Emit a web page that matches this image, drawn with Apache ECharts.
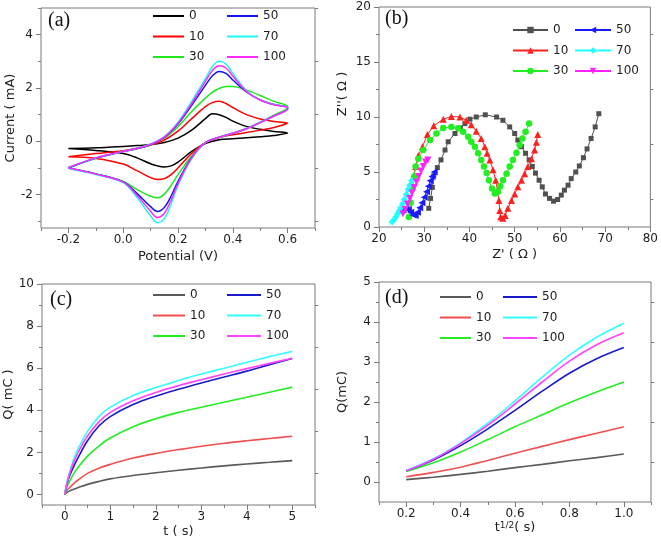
<!DOCTYPE html>
<html><head><meta charset="utf-8">
<script src="https://cdn.jsdelivr.net/npm/echarts@6/dist/echarts.min.js"></script>
<style>html,body{margin:0;padding:0;background:#fff}#c{width:661px;height:543px}</style>
</head><body><div id="c"></div>
<script>
// ---------- data ----------
const seriesNames = ['0', '10', '30', '50', '70', '100'];

// (a) cyclic voltammetry: forward scan then reverse scan
const cvPotential = [-0.2,-0.1,0,0.05,0.1,0.15,0.2,0.25,0.3,0.325,0.35,0.375,0.4,0.45,0.5,0.55,0.6,
                     0.6,0.55,0.5,0.45,0.4,0.35,0.3,0.25,0.2,0.175,0.15,0.125,0.1,0.05,0,-0.1,-0.2];
const cvCurrent0   = [-0.27,-0.24,-0.19,-0.16,-0.12,-0.04,0.12,0.42,0.85,1.03,1.0,0.9,0.76,0.56,0.45,0.37,0.31,
                      0.31,0.22,0.17,0.13,0.1,0.06,-0.08,-0.38,-0.78,-0.92,-0.96,-0.92,-0.84,-0.62,-0.46,-0.34,-0.27];
const cvCurrent10  = [-0.58,-0.46,-0.35,-0.26,-0.14,0.05,0.38,0.85,1.3,1.45,1.5,1.42,1.27,1.0,0.84,0.74,0.68,
                      0.66,0.52,0.42,0.33,0.25,0.14,-0.05,-0.45,-1.0,-1.25,-1.4,-1.43,-1.36,-1.1,-0.85,-0.64,-0.58];
const cvCurrent30  = [-1.0,-0.64,-0.38,-0.28,-0.13,0.12,0.55,1.12,1.62,1.84,1.98,2.06,2.06,1.92,1.72,1.5,1.32,
                      1.28,0.98,0.72,0.48,0.3,0.15,-0.05,-0.55,-1.25,-1.65,-1.98,-2.12,-2.06,-1.8,-1.5,-1.22,-1.0];
const cvCurrent50  = [-1.0,-0.63,-0.38,-0.27,-0.12,0.15,0.65,1.35,2.1,2.45,2.62,2.55,2.3,1.85,1.55,1.38,1.27,
                      1.22,0.95,0.7,0.47,0.3,0.15,-0.05,-0.6,-1.5,-2.05,-2.48,-2.63,-2.45,-1.95,-1.52,-1.22,-1.0];
const cvCurrent70  = [-0.98,-0.62,-0.38,-0.26,-0.1,0.18,0.72,1.5,2.35,2.8,3.0,2.9,2.55,1.9,1.56,1.38,1.28,
                      1.22,0.95,0.7,0.47,0.3,0.15,-0.05,-0.65,-1.65,-2.35,-2.9,-3.05,-2.8,-2.1,-1.55,-1.24,-1.02];
const cvCurrent100 = [-0.98,-0.62,-0.38,-0.27,-0.11,0.16,0.68,1.42,2.25,2.65,2.83,2.75,2.45,1.87,1.55,1.37,1.26,
                      1.22,0.95,0.7,0.47,0.3,0.15,-0.05,-0.62,-1.58,-2.2,-2.7,-2.86,-2.62,-2.02,-1.53,-1.23,-1.0];

// (b) impedance (Nyquist)
const eis0Re   = [31.0,31.4,31.8,32.1,32.9,33.7,34.6,35.3,36.8,38.0,39.0,40.1,41.5,43.5,46.0,47.4,48.9,50.0,50.7,51.5,52.4,53.2,53.9,54.6,55.4,56.1,56.8,57.7,58.6,59.5,60.3,61.0,61.8,62.5,63.5,64.3,65.2,66.0,66.9,67.8,68.6];
const eis0Im   = [1.7,2.6,3.6,4.65,5.4,6.1,7.0,7.75,8.5,9.0,9.4,9.8,10.0,10.2,10.0,9.7,9.1,8.5,7.9,7.3,6.7,6.1,5.5,4.9,4.25,3.65,3.0,2.6,2.35,2.5,2.9,3.35,3.8,4.4,5.0,5.55,6.3,7.1,8.05,9.1,10.3];
const eis10Re  = [27.6,28.1,28.7,29.6,30.7,32.1,34.2,36.0,37.9,39.3,40.4,41.5,42.6,43.4,43.9,44.5,45.2,45.8,46.2,46.5,46.7,46.9,47.4,47.9,48.5,49.3,50.0,50.7,51.5,52.2,52.9,53.7,54.4,54.8,55.1];
const eis10Im  = [4.6,5.5,6.5,7.3,8.4,9.2,9.8,10.05,10.0,9.7,9.3,8.7,8.05,7.3,6.7,6.1,5.2,4.25,3.35,2.4,1.5,0.9,0.8,1.05,1.7,2.4,3.0,3.65,4.25,4.85,5.5,6.2,7.0,7.7,8.4];
const eis30Re  = [26.6,27.0,27.4,27.8,28.1,28.7,29.8,31.3,32.7,34.2,36.0,37.5,38.6,39.7,40.4,41.2,41.9,42.6,43.2,43.8,44.3,45.0,45.6,46.3,46.8,47.4,48.2,48.9,49.6,50.4,51.1,51.7,52.4,53.2];
const eis30Im  = [0.9,2.2,3.5,4.6,5.5,6.2,7.0,7.9,8.5,9.0,9.1,8.97,8.66,8.2,7.75,7.3,6.7,6.1,5.5,4.9,4.25,3.5,3.05,3.2,3.7,4.25,4.85,5.5,6.1,6.75,7.45,8.05,8.66,9.4];
const eis50Re  = [24.8,25.3,25.9,26.5,27.0,27.5,28.0,28.5,29.0,29.5,30.0,30.5,30.9,31.3,31.7,32.2];
const eis50Im  = [1.4,1.55,1.65,1.6,1.35,1.1,1.05,1.35,1.75,2.2,2.7,3.2,3.7,4.2,4.6,5.0];
const eis70Re  = [22.9,23.3,23.7,24.1,24.5,24.8,25.2,25.6,26.0,26.4,26.8,27.2];
const eis70Im  = [0.45,0.65,0.9,1.2,1.5,1.75,2.1,2.5,2.95,3.4,3.8,4.2];
const eis100Re = [25.3,25.8,26.3,26.8,27.3,27.8,28.3,28.8,29.3,29.8,30.3,30.8];
const eis100Im = [1.2,1.6,2.1,2.6,3.1,3.6,4.1,4.6,5.1,5.5,5.9,6.1];

// (c) chronocoulometry Q vs t
const chronoTime = [0,0.05,0.1,0.2,0.3,0.5,0.75,1,1.5,2,2.5,3,3.5,4,4.5,5];
const chronoQ0   = [0,0.1,0.16,0.25,0.33,0.48,0.62,0.74,0.9,1.03,1.15,1.26,1.36,1.45,1.53,1.61];
const chronoQ10  = [0,0.2,0.32,0.53,0.7,1.0,1.25,1.43,1.73,1.95,2.13,2.29,2.43,2.55,2.66,2.77];
const chronoQ30  = [0,0.38,0.6,1.0,1.3,1.82,2.3,2.68,3.22,3.6,3.9,4.14,4.38,4.62,4.86,5.1];
const chronoQ50  = [0,0.5,0.85,1.35,1.78,2.55,3.25,3.7,4.27,4.67,5.0,5.3,5.58,5.86,6.17,6.46];
const chronoQ70  = [0,0.6,1.0,1.7,2.2,3.0,3.7,4.15,4.7,5.08,5.42,5.72,6.0,6.28,6.55,6.8];
const chronoQ100 = [0,0.55,0.95,1.55,2.03,2.78,3.45,3.9,4.45,4.85,5.17,5.45,5.72,5.98,6.23,6.47];

// (d) Q vs t^1/2
const sqrtTime = [0.2,0.3,0.4,0.5,0.6,0.7,0.8,0.9,1.0];
const ansonQ0   = [0.06,0.12,0.19,0.27,0.36,0.44,0.53,0.61,0.70];
const ansonQ10  = [0.13,0.24,0.37,0.54,0.72,0.89,1.06,1.22,1.38];
const ansonQ30  = [0.26,0.48,0.75,1.06,1.38,1.68,1.98,2.25,2.50];
const ansonQ50  = [0.28,0.55,0.91,1.33,1.79,2.27,2.72,3.08,3.36];
const ansonQ70  = [0.29,0.58,0.98,1.47,2.03,2.62,3.17,3.62,3.97];
const ansonQ100 = [0.28,0.57,0.96,1.42,1.95,2.50,3.02,3.43,3.73];

// ---------- chart ----------
const FONT = '"DejaVu Sans", sans-serif';
const FRAME = '#7a7a7a';
const TXT = '#1e1e1e';
const colA = ['#000000', '#ff0000', '#1ee81e', '#1414f0', '#1ef5f5', '#ff28ff'];
const colB = ['#505050', '#ff2020', '#22ee22', '#1a1aff', '#22ffff', '#ff22ff'];
const colC = ['#5a5a5a', '#f05050', '#22ee22', '#1a1acc', '#33ffff', '#ff44ff'];

const xAxes = [], yAxes = [];
const nameStyle = {color: TXT, fontFamily: FONT, fontSize: 13};
function mkX(gi, o) {
  const idx = xAxes.length;
  xAxes.push({type: 'value', gridIndex: gi, min: o.min, max: o.max, position: 'bottom',
    axisLine: {show: false, onZero: false}, splitLine: {show: false},
    axisTick: {show: true, inside: false, length: 5, customValues: o.majors, lineStyle: {color: FRAME}},
    axisLabel: {show: true, customValues: o.majors, formatter: o.fmt, color: TXT, fontFamily: FONT, fontSize: 12, margin: 6},
    name: o.name, nameLocation: 'middle', nameGap: o.gap, nameTextStyle: Object.assign({}, nameStyle, o.nameExtra || {})});
  xAxes.push({type: 'value', gridIndex: gi, min: o.min, max: o.max, position: 'bottom',
    axisLine: {show: false, onZero: false}, splitLine: {show: false},
    axisTick: {show: true, inside: false, length: 3, customValues: o.minors, lineStyle: {color: FRAME}},
    axisLabel: {show: false}});
  return idx;
}
function mkY(gi, o) {
  const idx = yAxes.length;
  yAxes.push({type: 'value', gridIndex: gi, min: o.min, max: o.max, position: 'left',
    axisLine: {show: false, onZero: false}, splitLine: {show: false},
    axisTick: {show: true, inside: false, length: 5, customValues: o.majors, lineStyle: {color: FRAME}},
    axisLabel: {show: true, customValues: o.majors, formatter: o.fmt, color: TXT, fontFamily: FONT, fontSize: 12, margin: 8},
    name: o.name, nameLocation: 'middle', nameGap: o.gap, nameRotate: 90,
    nameTextStyle: Object.assign({}, nameStyle, o.nameExtra || {})});
  yAxes.push({type: 'value', gridIndex: gi, min: o.min, max: o.max, position: 'left',
    axisLine: {show: false, onZero: false}, splitLine: {show: false},
    axisTick: {show: true, inside: false, length: 3, customValues: o.minors, lineStyle: {color: FRAME}},
    axisLabel: {show: false}});
  yAxes.push({type: 'value', gridIndex: gi, min: o.min, max: o.max, position: 'right',
    axisLine: {show: false, onZero: false}, splitLine: {show: false},
    axisTick: {show: true, inside: false, length: 3, customValues: o.minors, lineStyle: {color: FRAME}},
    axisLabel: {show: false}});
  return idx;
}
const fmt1 = v => v.toFixed(1);
const fmt0 = v => String(v);

const grids = [
  {left: 41, top: 8, width: 274, height: 220},
  {left: 379, top: 7, width: 272, height: 220},
  {left: 42, top: 284, width: 273, height: 221},
  {left: 379, top: 282, width: 272, height: 220}
].map(g => Object.assign({show: true, borderColor: FRAME, borderWidth: 1, backgroundColor: 'transparent'}, g));

const ax = [
  [mkX(0, {min: -0.3, max: 0.7, majors: [-0.2, 0, 0.2, 0.4, 0.6], minors: [-0.3, -0.1, 0.1, 0.3, 0.5, 0.7], fmt: fmt1, name: 'Potential (V)', gap: 22}),
   mkY(0, {min: -3.25, max: 5, majors: [-2, 0, 2, 4], minors: [-3, -1, 1, 3, 5], fmt: fmt0, name: 'Current ( mA)', gap: 22})],
  [mkX(1, {min: 20, max: 80, majors: [20, 30, 40, 50, 60, 70, 80], minors: [25, 35, 45, 55, 65, 75], fmt: fmt0, name: "Z' ( Ω )", gap: 21}),
   mkY(1, {min: 0, max: 20, majors: [0, 5, 10, 15, 20], minors: [2.5, 7.5, 12.5, 17.5], fmt: fmt0, name: "Z''( Ω )", gap: 30, nameExtra: {padding: [0, 0, 0, 46]}})],
  [mkX(2, {min: -0.5, max: 5.5, majors: [0, 1, 2, 3, 4, 5], minors: [-0.5, 0.5, 1.5, 2.5, 3.5, 4.5, 5.5], fmt: fmt0, name: 't ( s)', gap: 20}),
   mkY(2, {min: -0.5, max: 10, majors: [0, 2, 4, 6, 8, 10], minors: [1, 3, 5, 7, 9], fmt: fmt0, name: 'Q( mC )', gap: 25})],
  [mkX(3, {min: 0.1, max: 1.1, majors: [0.2, 0.4, 0.6, 0.8, 1.0], minors: [0.1, 0.3, 0.5, 0.7, 0.9, 1.1], fmt: fmt1, name: 't{sup|1/2}( s)', gap: 18,
           nameExtra: {rich: {sup: {fontSize: 9, fontFamily: FONT, color: TXT, verticalAlign: 'top', lineHeight: 9, padding: [0, 0, 6, 0]}}}}),
   mkY(3, {min: -0.5, max: 5, majors: [0, 1, 2, 3, 4, 5], minors: [0.5, 1.5, 2.5, 3.5, 4.5], fmt: fmt0, name: 'Q(mC)', gap: 30})]
];

function pairs(xs, ys) { return xs.map((x, i) => [x, ys[i]]); }

const series = [];
const cvSets = [cvCurrent0, cvCurrent10, cvCurrent30, cvCurrent50, cvCurrent70, cvCurrent100];
cvSets.forEach((ys, k) => series.push({
  type: 'line', name: 'a|' + seriesNames[k], xAxisIndex: ax[0][0], yAxisIndex: ax[0][1],
  data: pairs(cvPotential, ys), symbol: 'none', smooth: 0.35, color: colA[k],
  lineStyle: {width: 1.5, color: colA[k]}, z: 2 + k}));

const eisRe = [eis0Re, eis10Re, eis30Re, eis50Re, eis70Re, eis100Re];
const eisIm = [eis0Im, eis10Im, eis30Im, eis50Im, eis70Im, eis100Im];
const eisSym = ['rect', 'triangle', 'circle', 'triangle', 'diamond', 'triangle'];
const eisRot = [0, 0, 0, 90, 0, 180];
const eisSize = [5, 7, 6.5, 7, 7, 7];
eisRe.forEach((xs, k) => series.push({
  type: 'line', name: 'b|' + seriesNames[k], xAxisIndex: ax[1][0], yAxisIndex: ax[1][1],
  data: pairs(xs, eisIm[k]), symbol: eisSym[k], symbolRotate: eisRot[k], symbolSize: eisSize[k], showSymbol: true,
  color: colB[k], itemStyle: {color: colB[k]}, lineStyle: {width: 1, color: colB[k]}, z: 2 + k}));

const chronoSets = [chronoQ0, chronoQ10, chronoQ30, chronoQ50, chronoQ70, chronoQ100];
chronoSets.forEach((ys, k) => series.push({
  type: 'line', name: 'c|' + seriesNames[k], xAxisIndex: ax[2][0], yAxisIndex: ax[2][1],
  data: pairs(chronoTime, ys), symbol: 'none', smooth: 0.35, color: colC[k],
  lineStyle: {width: 1.6, color: colC[k]}, z: 2 + k}));

const ansonSets = [ansonQ0, ansonQ10, ansonQ30, ansonQ50, ansonQ70, ansonQ100];
ansonSets.forEach((ys, k) => series.push({
  type: 'line', name: 'd|' + seriesNames[k], xAxisIndex: ax[3][0], yAxisIndex: ax[3][1],
  data: pairs(sqrtTime, ys), symbol: 'none', smooth: 0.35, color: colC[k],
  lineStyle: {width: 1.6, color: colC[k]}, z: 2 + k}));

function legend(prefix, names, left, top, w, opts) {
  return Object.assign({
    data: names.map(n => prefix + '|' + n), orient: 'vertical', left: left, top: top,
    itemWidth: w, itemHeight: 2, icon: 'rect', itemGap: 6.5, selectedMode: false, padding: 0,
    formatter: n => n.split('|')[1],
    textStyle: {color: TXT, fontFamily: FONT, fontSize: 12, lineHeight: 14}
  }, opts || {});
}
const legends = [
  legend('a', ['0', '10', '30'], 153, 9, 31), legend('a', ['50', '70', '100'], 227, 9, 31),
  legend('b', ['0', '10', '30'], 512, 23, 35, {icon: null, itemHeight: 8}),
  legend('b', ['50', '70', '100'], 574, 23, 36, {icon: null, itemHeight: 8}),
  legend('c', ['0', '10', '30'], 153, 288, 32), legend('c', ['50', '70', '100'], 227, 288, 34),
  legend('d', ['0', '10', '30'], 440, 290, 31), legend('d', ['50', '70', '100'], 503, 290, 34)
];
legends.forEach(l => { if (l.icon === null) delete l.icon; });

const panelLabel = (t, x, y) => ({type: 'text', left: x, top: y, z: 50,
  style: {text: t, font: '20px "Liberation Serif", serif', fill: '#111'}});

const chart = echarts.init(document.getElementById('c'), null, {renderer: 'canvas'});
chart.setOption({
  animation: false,
  backgroundColor: '#ffffff',
  grid: grids,
  xAxis: xAxes,
  yAxis: yAxes,
  legend: legends,
  series: series,
  graphic: [panelLabel('(a)', 48, 11), panelLabel('(b)', 385, 9), panelLabel('(c)', 50, 290), panelLabel('(d)', 385, 288)]
});
</script></body></html>
